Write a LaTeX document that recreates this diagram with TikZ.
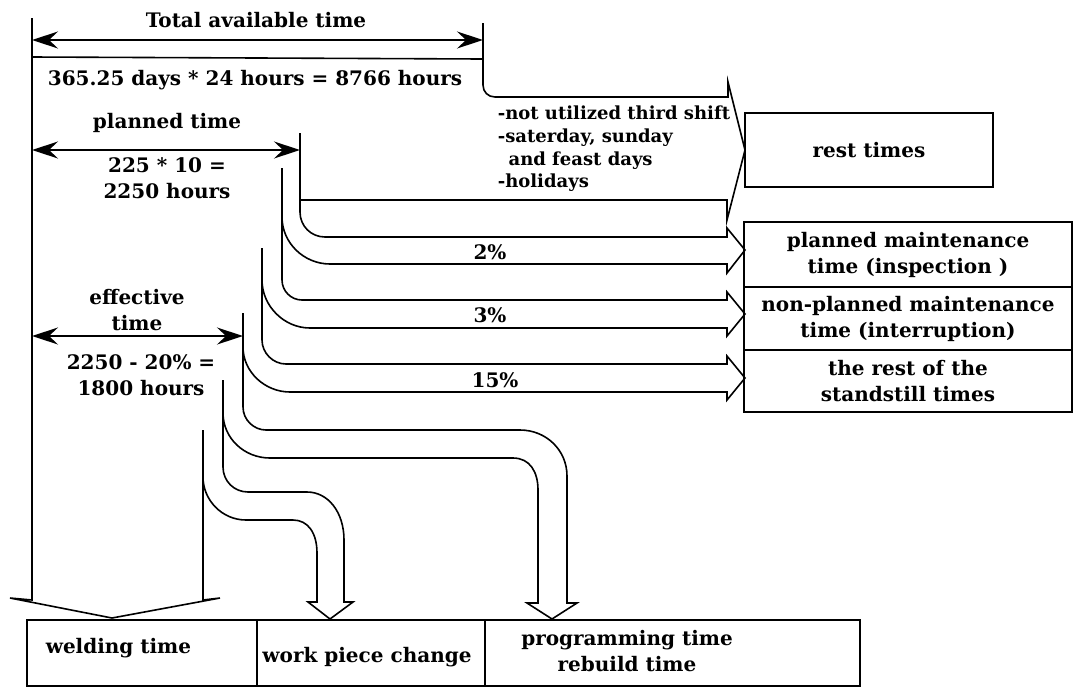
\documentclass[tikz,border=0pt]{standalone}
\usepackage{fontspec}
\setmainfont{DejaVu Serif}
\usetikzlibrary{arrows.meta,positioning}

\begin{document}
\begin{tikzpicture}[x=1pt,y=-1pt,line width=1.6pt,
  every node/.style={font=\fontsize{20}{26}\selectfont\bfseries,inner sep=0pt},
  box/.style={draw,line width=1.6pt},
  dimarrow/.style={{Stealth[length=26pt,width=17pt,inset=9pt]}-{Stealth[length=26pt,width=17pt,inset=9pt]}},
  listtext/.style={font=\fontsize{18}{22.7}\selectfont\bfseries,align=left}]
\useasboundingbox (0,0) rectangle (1075,689);
% dimension arrows
\coordinate (tot-l) at (32,40);
\coordinate (tot-r) at (483,40);
\coordinate (plan-l) at (32,150);
\coordinate (plan-r) at (300,150);
\coordinate (eff-l) at (32,336);
\coordinate (eff-r) at (243,336);
\draw[dimarrow] (tot-l) -- (tot-r);
\draw[dimarrow] (plan-l) -- (plan-r);
\draw[dimarrow] (eff-l) -- (eff-r);
\draw (32,57) -- (483,59);
% rest times flow
\draw (483,23) -- (483,85) .. controls (483,92) and (488,97) .. (495,97) -- (728,97) -- (728,82) -- (745,150) -- (727,220) -- (727,200) -- (300,200);
% 2%
\draw (300,133) -- (300,212) .. controls (300,226) and (311,237) .. (325,237) -- (727,237) -- (727,228) -- (745,250) -- (727,273) -- (727,264) -- (330,264) .. controls (304,264) and (282,243) .. (282,217);
% 3%
\draw (282,168) -- (282,280) .. controls (282,291) and (291,300) .. (302,300) -- (727,300) -- (727,292) -- (745,314) -- (727,336) -- (727,328) -- (310,328) .. controls (284,328) and (262,306) .. (262,280);
% 15%
\draw (262,248) -- (262,340) .. controls (262,353) and (273,364) .. (286,364) -- (727,364) -- (727,356) -- (745,378) -- (727,400) -- (727,392) -- (290,392) .. controls (265,392) and (243,372) .. (243,347);
% programming time
\draw (243,313) -- (243,407) .. controls (243,420) and (254,430) .. (266,430) -- (520,430) .. controls (546,430) and (567,450) .. (567,476) -- (567,603) -- (577,603) -- (552,619) -- (527,603) -- (538,603) -- (538,490) .. controls (538,472) and (530,458) .. (513,458) -- (270,458) .. controls (244,458) and (223,438) .. (223,413);
% work piece change
\draw (223,380) -- (223,467) .. controls (223,481) and (234,492) .. (248,492) -- (307,492) .. controls (328,492) and (344,512) .. (344,540) -- (344,602) -- (353,602) -- (330,619) -- (308,602) -- (317,602) -- (317,553) .. controls (317,533) and (308,520) .. (293,520) -- (246,520) .. controls (222,520) and (203,500) .. (203,477);
% welding time
\draw (203,430) -- (203,600) -- (220,598) -- (112,618) -- (10,598) -- (32,600) -- (32,18);
% boxes
\node[box,minimum width=248pt,minimum height=74pt] (rest) at (869,150) {rest times};
\node[box,minimum width=328pt,minimum height=65pt,align=center] (plmaint) at (908,254.5) {planned maintenance\\time (inspection )};
\node[box,minimum width=328pt,minimum height=63pt,align=center] (npmaint) at (908,318.5) {non-planned maintenance\\time (interruption)};
\node[box,minimum width=328pt,minimum height=62pt,align=center] (standstill) at (908,381) {the rest of the\\standstill times};
\node[box,minimum width=230pt,minimum height=66pt] (weld) at (142,653) {};
\node[box,minimum width=228pt,minimum height=66pt] (piece) at (371,653) {};
\node[box,minimum width=375pt,minimum height=66pt] (prog) at (672.5,653) {};
\node[anchor=west] (weldtxt) at (45,648) {welding time};
\node (piecetxt) at (367,657) {work piece change};
\node[align=center] (progtxt) at (627,651.5) {programming time\\rebuild time};
% labels
\node (ttot) at (256,20) {Total available time};
\node (thours) at (255,80) {365.25 days * 24 hours = 8766 hours};
\node (tplan) at (167,123) {planned time};
\node[align=center] (tplanval) at (167,178.5) {225 * 10 =\\2250 hours};
\node[align=center] (teff) at (137,310) {effective\\time};
\node[align=center] (teffval) at (141,375) {2250 - 20\% =\\1800 hours};
\node[listtext,anchor=west] (tlist) at (497,149) {-not utilized third shift\\-saterday, sunday\\\hspace*{0.6em}and feast days\\-holidays};
\node (t2) at (490,252) {2\%};
\node (t3) at (490,315) {3\%};
\node (t15) at (495,380) {15\%};
\end{tikzpicture}
\end{document}
